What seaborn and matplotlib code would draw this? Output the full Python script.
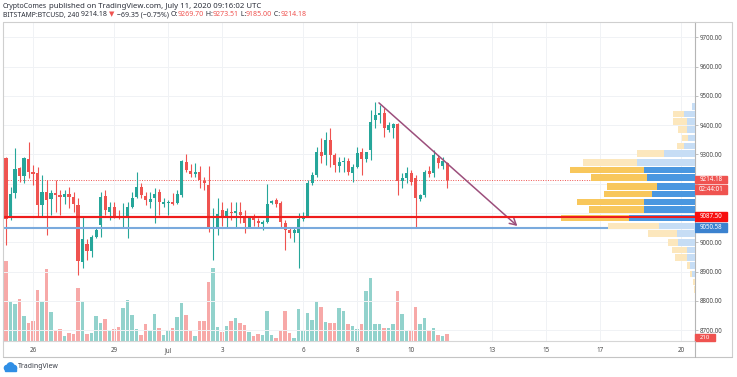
import numpy as np
import pandas as pd
import matplotlib
matplotlib.use("Agg")
import matplotlib.pyplot as plt
import matplotlib.dates as mdates
import matplotlib.transforms as mtransforms
from matplotlib.patches import Rectangle, Circle
from matplotlib.lines import Line2D
import seaborn as sns

# 4h candles, BITSTAMP:BTCUSD, starting 2020-06-25 00:00
start = "2020-06-25 00:00"
opens = [9288, 9086, 9169, 9254, 9227, 9285, 9240, 9237, 9128, 9172,
         9148, 9169, 9162, 9155, 9165, 9155, 9128, 8933, 8995, 8971,
         9019, 9059, 9158, 9104, 9121, 9087, 9083, 9087, 9121, 9155,
         9189, 9158, 9138, 9152, 9172, 9131, 9135, 9138, 9135, 9162,
         9274, 9244, 9233, 9240, 9210, 9196, 9046, 9049, 9111, 9090,
         9104, 9100, 9104, 9090, 9053, 9083, 9073, 9063, 9070, 9135,
         9145, 9135, 9066, 9042, 9032, 9032, 9080, 9090, 9203, 9230,
         9309, 9298, 9349, 9298, 9261, 9274, 9278, 9237, 9257, 9309,
         9285, 9315, 9418, 9435, 9442, 9384, 9390, 9404, 9210, 9220,
         9237, 9220, 9148, 9162, 9244, 9237, 9288, 9261, 9269.70]
highs = [9291, 9189, 9322, 9257, 9291, 9343, 9264, 9257, 9230, 9213,
         9179, 9213, 9179, 9179, 9189, 9172, 9152, 9087, 9012, 9025,
         9049, 9172, 9179, 9138, 9138, 9111, 9135, 9138, 9172, 9240,
         9203, 9172, 9172, 9186, 9182, 9152, 9145, 9169, 9179, 9281,
         9302, 9268, 9271, 9261, 9223, 9261, 9117, 9152, 9138, 9117,
         9138, 9138, 9138, 9111, 9090, 9097, 9083, 9076, 9199, 9145,
         9152, 9141, 9076, 9049, 9049, 9100, 9104, 9213, 9240, 9326,
         9356, 9377, 9390, 9305, 9291, 9291, 9288, 9268, 9326, 9322,
         9309, 9452, 9479, 9469, 9459, 9411, 9408, 9408, 9237, 9257,
         9247, 9230, 9165, 9247, 9261, 9315, 9298, 9291, 9273.51]
lows = [8991, 9076, 9152, 9206, 9203, 9220, 9196, 9087, 9087, 9025,
        9094, 9104, 9094, 9131, 9117, 9104, 8889, 8913, 8940, 8950,
        9015, 9019, 9094, 9076, 9083, 9080, 9053, 9015, 9117, 9152,
        9152, 9128, 9117, 9066, 9094, 9121, 9094, 9128, 9131, 9155,
        9240, 9223, 9223, 9186, 9179, 9035, 8940, 9025, 9056, 9049,
        9076, 9053, 9066, 9032, 9049, 9056, 9049, 9042, 9066, 9131,
        9121, 9049, 8974, 9015, 9001, 8913, 9073, 9087, 9196, 9223,
        9271, 9264, 9257, 9240, 9240, 9240, 9230, 9206, 9254, 9230,
        9274, 9281, 9390, 9408, 9360, 9377, 9356, 9162, 9186, 9203,
        9196, 9053, 9141, 9155, 9223, 9223, 9254, 9250, 9185.00]
closes = [9080, 9165, 9250, 9227, 9288, 9240, 9233, 9128, 9172, 9145,
          9169, 9162, 9155, 9165, 9155, 9131, 8937, 9012, 8971, 9019,
          9042, 9155, 9111, 9121, 9087, 9083, 9087, 9121, 9152, 9189,
          9162, 9145, 9148, 9165, 9138, 9138, 9138, 9131, 9165, 9278,
          9247, 9233, 9240, 9213, 9203, 9049, 9053, 9097, 9090, 9107,
          9100, 9107, 9094, 9066, 9083, 9076, 9066, 9070, 9131, 9141,
          9131, 9070, 9042, 9032, 9042, 9080, 9087, 9203, 9230, 9309,
          9295, 9349, 9298, 9264, 9274, 9278, 9240, 9257, 9305, 9285,
          9309, 9411, 9435, 9442, 9390, 9401, 9404, 9210, 9220, 9237,
          9206, 9152, 9162, 9240, 9233, 9298, 9271, 9278, 9214.18]
volumes = [2510, 1250, 1155, 1313, 777, 578, 620, 1586, 1218, 2247,
           903, 336, 368, 147, 242, 210, 1659, 1250, 221, 252,
           798, 578, 704, 357, 389, 452, 1019, 1281, 830, 378,
           179, 546, 315, 840, 420, 200, 357, 399, 746, 1176,
           819, 315, 147, 641, 620, 1859, 2289, 452, 284, 462,
           620, 714, 557, 494, 273, 147, 221, 200, 935, 189,
           105, 347, 935, 252, 95, 998, 315, 882, 662, 1239,
           1061, 588, 567, 567, 1050, 956, 546, 483, 378, 525,
           1554, 1974, 536, 536, 399, 399, 536, 1565, 840, 305,
           336, 1061, 546, 725, 357, 420, 200, 158, 210]

day_ticks = ["2020-06-26", "2020-06-29", "2020-07-01", "2020-07-03", "2020-07-06",
             "2020-07-08", "2020-07-10", "2020-07-13", "2020-07-15", "2020-07-17", "2020-07-20"]
day_labels = ["26", "29", "Jul", "3", "6", "8", "10", "13", "15", "17", "20"]
price_ticks = [8700, 8800, 8900, 9000, 9100, 9200, 9300, 9400, 9500, 9600, 9700]
hidden_ticks = [9100, 9200]  # covered by the price labels on the scale

# visible range volume profile (row centre price, up / down volume)
profile_price = [9465, 9438, 9411, 9384, 9356, 9329, 9302, 9274, 9247, 9220, 9192,
                 9165, 9138, 9111, 9083, 9056, 9029, 9001, 8974, 8947, 8920, 8892, 8865, 8838]
profile_up = [3, 11, 8, 8, 7, 11, 31, 58, 51, 48, 38, 43, 51, 51, 66, 36, 18, 17, 8, 8, 5, 3, 0, 0]
profile_down = [0, 11, 14, 9, 6, 7, 27, 54, 74, 56, 50, 48, 67, 55, 68, 51, 29, 10, 15, 12, 3, 2, 2, 1]
value_area = (9070, 9260)

# trend line drawn on the chart
trend_time = ["2020-07-08 19:30", "2020-07-13 22:30"]
trend_price = [9476, 9056]

last_price = 9214.18
support = 9087.50
blue_level = 9050.58

# ---------------------------------------------------------------
sns.set_style("white")
plt.rcParams["font.family"] = ["Noto Sans", "DejaVu Sans"]

W, H = 737, 377
fig = plt.figure(figsize=(W / 100, H / 100), dpi=100)
fig.patch.set_facecolor("white")
pane = [3 / W, (H - 341) / H, 692 / W, 319 / H]

green, red = "#26a69a", "#ef5350"
t = mdates.date2num(pd.date_range(start, periods=len(opens), freq="4h").to_pydatetime())
step = 1 / 6
xlim = (t[0] - 0.667 * step, t[0] + 153.1 * step)
ylim = (8663.5, 9752)

o = np.array(opens); c = np.array(closes)
up = c >= o
cols = np.where(up, green, red)

# volume (bottom layer)
ax_vol = fig.add_axes(pane)
vol_df = pd.DataFrame({"t": t, "volume": volumes, "dir": np.where(up, "up", "down")})
sns.barplot(data=vol_df, x="t", y="volume", hue="dir",
            palette={"up": "#92d2cc", "down": "#f7a9a8"}, native_scale=True,
            width=0.78, dodge=False, errorbar=None, saturation=1, legend=False,
            linewidth=0, ax=ax_vol)
ax_vol.set_xlim(xlim)
ax_vol.set_ylim(0, 10000)
ax_vol.axis("off")

# main price pane
ax = fig.add_axes(pane)
ax.patch.set_visible(False)
ax.vlines(t, lows, highs, colors=cols, lw=0.8, zorder=2)
ax.bar(t, np.maximum(np.abs(c - o), 2.5), bottom=np.minimum(o, c), width=0.67 * step,
       color=cols, linewidth=0, zorder=3)

ax.axhline(last_price, color=red, lw=0.7, ls=(0, (1, 1.5)), zorder=1.5)
ax.axhline(support, color="#ee1c1c", lw=1.5, zorder=4)
ax.axhline(blue_level, color="#7aaadd", lw=1.5, zorder=4)

tt = mdates.date2num(pd.to_datetime(trend_time).to_pydatetime())
ax.annotate("", xy=(tt[1], trend_price[1]), xytext=(tt[0], trend_price[0]),
            arrowprops=dict(arrowstyle="->,head_length=0.45,head_width=0.25",
                            color="#9c4f7c", lw=1.1, shrinkA=0, shrinkB=0), zorder=5)

ax.set_xlim(xlim)
ax.set_ylim(ylim)
ax.set_xticks(mdates.date2num(pd.to_datetime(day_ticks).to_pydatetime()))
ax.set_xticklabels(day_labels)
ax.yaxis.tick_right()
ax.set_yticks(price_ticks)
ax.set_yticklabels(["" if p in hidden_ticks else f"{p:.2f}" for p in price_ticks])
ax.grid(True, color="#f0f2f5", lw=0.7)
ax.set_axisbelow(True)
for s in ["top", "left"]:
    ax.spines[s].set_visible(False)
ax.spines["bottom"].set_color("#d6d6d6")
ax.spines["right"].set_color("#b5b5b5")
ax.tick_params(axis="both", labelsize=4.5, color="#b5b5b5", labelcolor="#4a4a4a",
               length=2.5, width=0.6)
ax.tick_params(axis="y", pad=1.2)
ax.tick_params(axis="x", pad=2)

# volume profile (top layer)
ax_vp = fig.add_axes(pane)
ax_vp.set_xlim(692, 0)
ax_vp.set_ylim(ylim)
ax_vp.axis("off")
in_va = [(value_area[0] <= p <= value_area[1]) for p in profile_price]
up_cols = ["#4a97e0" if v else "#c6ddf5" for v in in_va]
dn_cols = ["#f8c75c" if v else "#fce7bd" for v in in_va]
row_h = 27.3 * 0.86
ax_vp.barh(profile_price, profile_up, height=row_h, left=0, color=up_cols, linewidth=0)
ax_vp.barh(profile_price, profile_down, height=row_h, left=profile_up, color=dn_cols, linewidth=0)
ax_vp.axhline(support, color="#ee1c1c", lw=1.5)

# price scale labels
trans = mtransforms.blended_transform_factory(ax.transAxes, ax.transData)
ppx = 3.413  # price units per pixel


def price_label(price, text, color, h_px=8, w_px=32, tr=trans, unit=ppx, fs=4.5):
    w = w_px / 692
    h = h_px * unit
    ax.add_patch(Rectangle((1.0, price - h / 2), w, h, transform=tr, color=color,
                           clip_on=False, zorder=6))
    ax.text(1.0 + w / 2, price, text, transform=tr, color="white", fontsize=fs,
            ha="center", va="center", clip_on=False, zorder=7)


price_label(last_price, f"{last_price:.2f}", red, h_px=7.5)
price_label(last_price - 9.8 * ppx, "02:44:01", red, h_px=9)
price_label(support, f"{support:.2f}", "#f70f0f", h_px=9)
price_label(blue_level, f"{blue_level:.2f}", "#3b82cf", h_px=9)
trans_vol = mtransforms.blended_transform_factory(ax.transAxes, ax_vol.transData)
price_label(volumes[-1] - 105, f"{volumes[-1]}", red, h_px=6.5, w_px=20, tr=trans_vol,
            unit=10000 / 319, fs=4.3)


# frame
def fline(x0, y0, x1, y1, color, lw=0.8):
    fig.add_artist(Line2D([x0 / W, x1 / W], [1 - y0 / H, 1 - y1 / H], color=color, lw=lw))


fline(3, 22, 732, 22, "#cfcfcf")
fline(3, 22, 3, 357, "#cfcfcf")
fline(732, 22, 732, 357, "#cfcfcf")
fline(3, 357, 732, 357, "#c4c4c4")
fline(695, 341, 695, 357, "#b5b5b5")

# header
renderer = fig.canvas.get_renderer()


def runs(parts, x, y):
    for s, col, wt, size in parts:
        txt = fig.text(x / W, 1 - y / H, s, color=col, fontweight=wt, fontsize=size,
                       ha="left", va="center")
        x += txt.get_window_extent(renderer=renderer).width


dark = "#2a2e39"
runs([("CryptoComes", dark, "bold", 5.0),
      (" published on TradingView.com, July 11, 2020 09:16:02 UTC", dark, "normal", 5.6)], 3, 6)
n = 5.05
runs([("BITSTAMP:BTCUSD, 240", dark, "bold", 4.9), (" 9214.18 ", dark, "normal", n),
      ("▼", red, "normal", n), (" −69.35 (−0.75%) ", dark, "normal", n),
      ("O:", dark, "bold", n), (f"{opens[-1]:.2f}", red, "normal", n),
      (" H:", dark, "bold", n), (f"{highs[-1]:.2f}", red, "normal", n),
      (" L:", dark, "bold", n), (f"{lows[-1]:.2f}", red, "normal", n),
      (" C:", dark, "bold", n), (f"{closes[-1]:.2f}", red, "normal", n)], 3, 15)

# TradingView logo
idt = mtransforms.IdentityTransform()
for cx, cy, r in [(7, 368, 2.6), (10.5, 366.2, 3.4), (14, 368, 2.6)]:
    fig.add_artist(Circle((cx, H - cy), r, transform=idt, color="#2f8ee5"))
fig.add_artist(Rectangle((5, H - 370.5), 11, 3, transform=idt, color="#2f8ee5"))
fig.text(18 / W, 1 - 367 / H, "TradingView", fontsize=5, color="#3a3e48", ha="left", va="center")

fig.savefig("out.png", dpi=100)
